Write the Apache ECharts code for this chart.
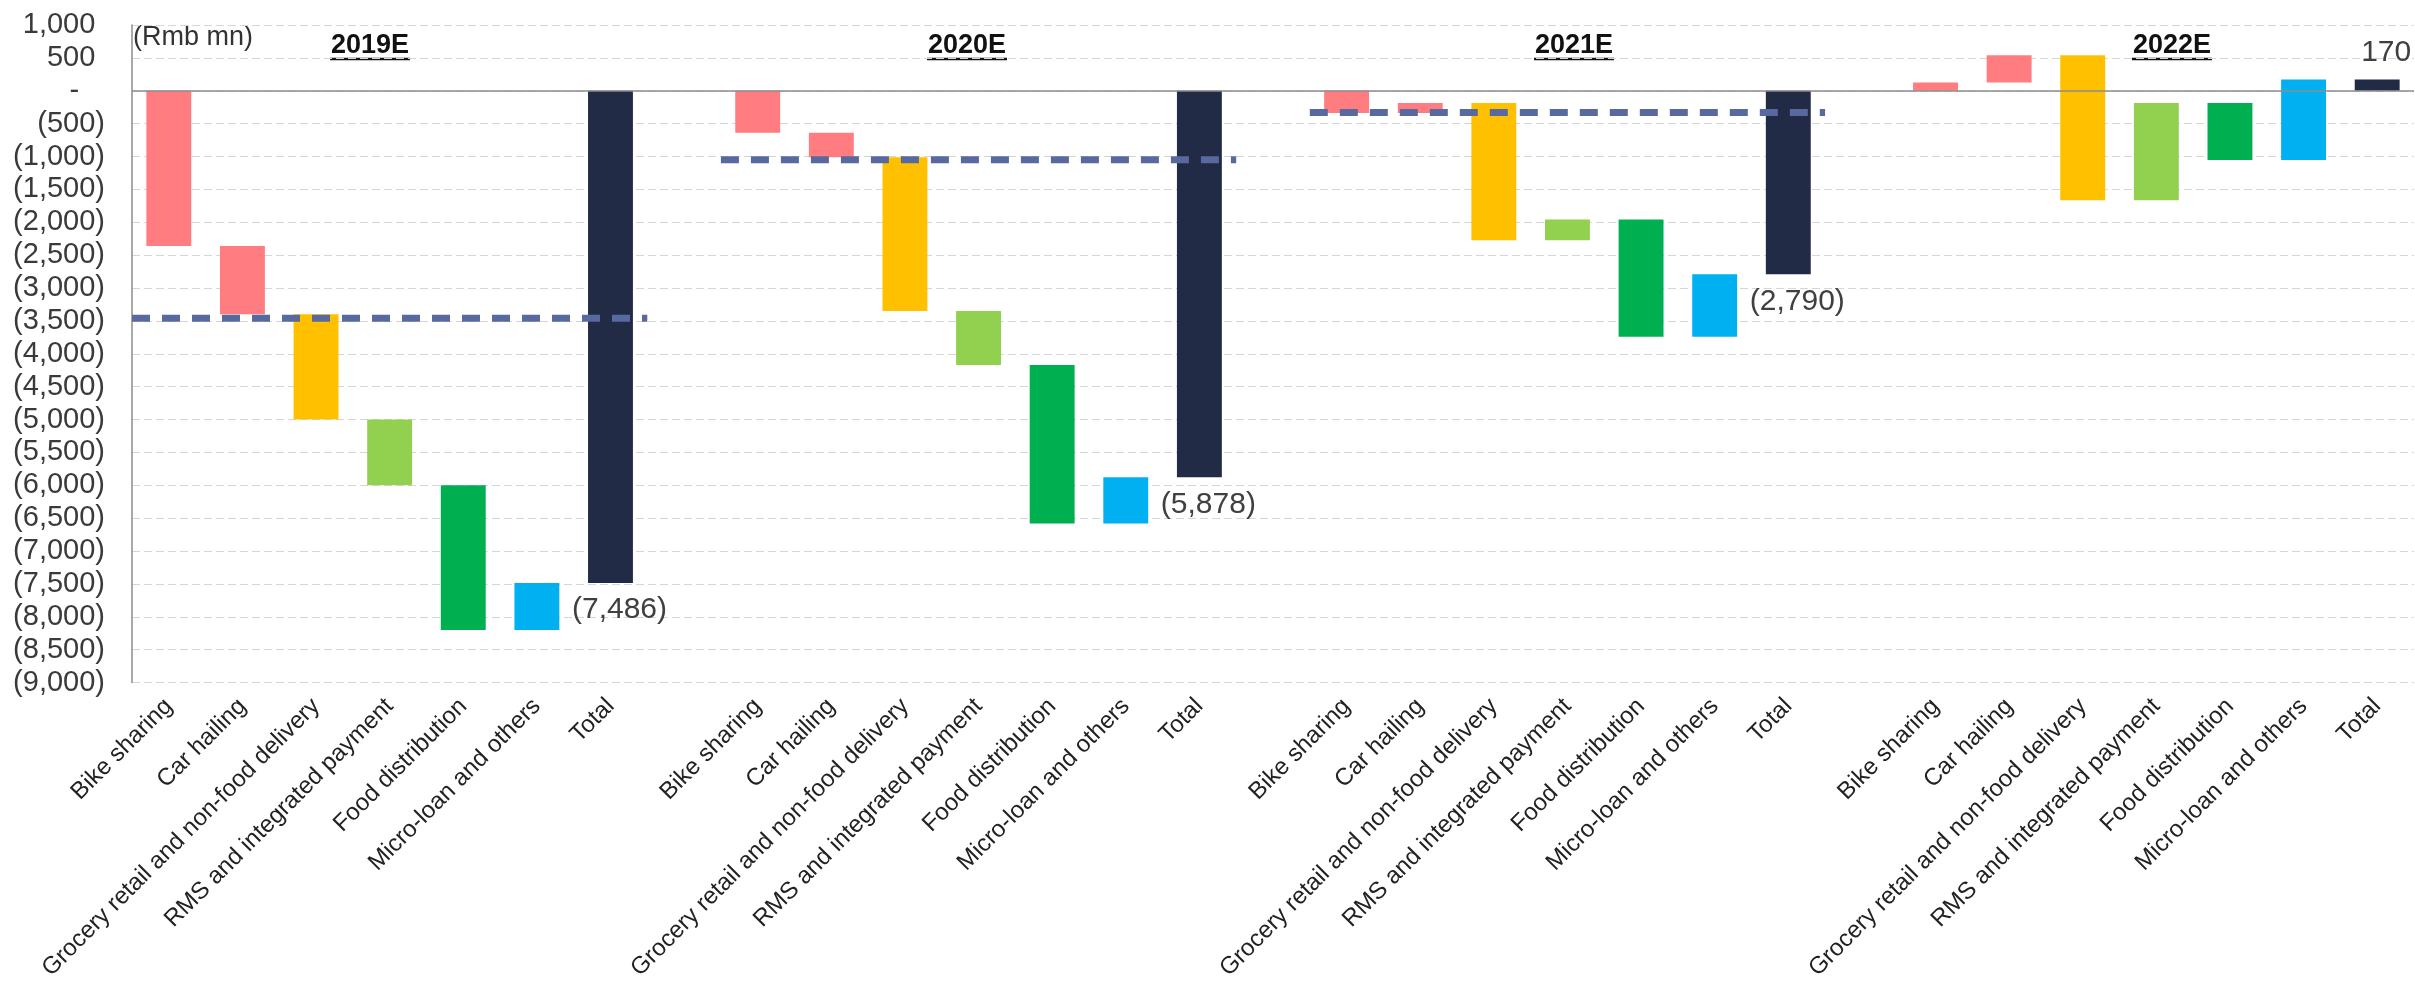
<!DOCTYPE html>
<html>
<head>
<meta charset="utf-8">
<script src="https://cdn.jsdelivr.net/npm/echarts@6/dist/echarts.min.js"></script>
<style>
  html, body { margin: 0; padding: 0; background: #ffffff; }
  #chart { width: 2415px; height: 983px; }
</style>
</head>
<body>
<div id="chart"></div>
<script>
// Segment earnings bridge by year (Rmb mn)
const years = ['2019E', '2020E', '2021E', '2022E'];
const segmentNames = [
  'Bike sharing',
  'Car hailing',
  'Grocery retail and non-food delivery',
  'RMS and integrated payment',
  'Food distribution',
  'Micro-loan and others'
];
const totalName = 'Total';

// Contribution of each segment, one entry per year
const bikeSharing      = [-2360,  -640,  -340,   125];
const carHailing       = [-1040,  -370,   155,   415];
const groceryRetail    = [-1600, -2340, -2090, -2205];
const rmsPayment       = [-1000,  -820,   318,  1478];
const foodDistribution = [-2200, -2410, -1784,  -865];
const microLoan        = [  714,   702,   951,  1222];
const totals           = [-7486, -5878, -2790,   170];

// Dashed reference level drawn across each year's group
const referenceLevel = [-3460, -1050, -330, null];

// Value axis range
const yMin = -9000;
const yMax = 1000;
const yStep = 500;

// ---- styling / layout ----
const FONT = '"Liberation Sans", Arial, sans-serif';
const segmentColors = ['#FF7C80', '#FF7C80', '#FFC000', '#92D050', '#00B050', '#00B0F0'];
const totalColor = '#212B45';
const refLineColor = '#58699F';
const axisGray = '#8c8c8c';
const titleCenters = [370, 967, 1574, 2172];
const barShare = 0.61;

// ---- build slots: 7 bars per year, one empty slot between years ----
const segmentValues = [bikeSharing, carHailing, groceryRetail, rmsPayment, foodDistribution, microLoan];
const categories = [];
const floatData = [];
const totalData = [];
const groupStart = [];

years.forEach((yr, g) => {
  groupStart.push(categories.length);
  let running = 0;
  segmentNames.forEach((name, s) => {
    const idx = categories.length;
    categories.push(yr + '|' + name);
    const start = running;
    running += segmentValues[s][g];
    floatData.push([idx, start, running, s]);
    totalData.push('-');
  });
  categories.push(yr + '|' + totalName);
  totalData.push({
    value: totals[g],
    label: { position: totals[g] < 0 ? 'bottom' : 'top' }
  });
  if (g < years.length - 1) {
    categories.push('gap' + g);
    totalData.push('-');
  }
});
const slotCount = categories.length;
const groupSize = segmentNames.length + 1;

function accounting(v) {
  const s = Math.abs(v).toLocaleString('en-US');
  return v < 0 ? '(' + s + ')' : s;
}

// accounting-style tick labels: positives keep the room of a closing bracket
function tickLabel(v) {
  if (v === 0) return '{n|-}{h|0)}';
  if (v > 0) return '{n|' + accounting(v) + '}{h|)}';
  return '{n|' + accounting(v) + '}';
}

const series = [];

// floating segment bars
series.push({
  type: 'custom',
  name: 'segments',
  xAxisIndex: 0,
  yAxisIndex: 0,
  data: floatData,
  encode: { x: 0, y: [1, 2] },
  z: 2,
  silent: true,
  renderItem: function (params, api) {
    const i = api.value(0);
    const a = api.coord([i, api.value(1)]);
    const b = api.coord([i, api.value(2)]);
    const w = api.size([1, 0])[0] * barShare;
    return {
      type: 'rect',
      shape: {
        x: a[0] - w / 2,
        y: Math.min(a[1], b[1]),
        width: w,
        height: Math.max(Math.abs(b[1] - a[1]), 1)
      },
      style: { fill: segmentColors[api.value(3)] }
    };
  }
});

// totals
series.push({
  type: 'bar',
  name: 'total',
  xAxisIndex: 0,
  yAxisIndex: 0,
  data: totalData,
  barWidth: (barShare * 100) + '%',
  itemStyle: { color: totalColor },
  z: 3,
  silent: true,
  label: {
    show: true,
    formatter: p => accounting(p.value),
    fontFamily: FONT,
    fontSize: 30,
    color: '#404040',
    distance: 12,
    offset: [9, 0]
  },
  markLine: {
    silent: true,
    symbol: 'none',
    label: { show: false },
    lineStyle: { color: axisGray, width: 1.5, type: 'solid' },
    data: [{ yAxis: 0 }],
    animation: false
  }
});

// dashed reference lines per year
years.forEach((yr, g) => {
  const lvl = referenceLevel[g];
  if (lvl === null) return;
  series.push({
    type: 'line',
    name: 'ref ' + yr,
    xAxisIndex: 1,
    yAxisIndex: 0,
    data: [[groupStart[g], lvl], [groupStart[g] + groupSize, lvl]],
    symbol: 'none',
    silent: true,
    z: 5,
    lineStyle: { color: refLineColor, width: 7, type: [18, 12], cap: 'butt' }
  });
});

// unit note and year titles
const graphics = [{
  type: 'text',
  x: 133,
  y: 38,
  style: { text: '(Rmb mn)', font: '27px ' + FONT, fill: '#333333', verticalAlign: 'middle' }
}];
years.forEach((yr, g) => {
  const cx = titleCenters[g];
  graphics.push({
    type: 'text',
    x: cx,
    y: 46,
    style: { text: yr, font: 'bold 27px ' + FONT, fill: '#111111', align: 'center', verticalAlign: 'middle' }
  });
  graphics.push({
    type: 'line',
    shape: { x1: cx - 40, y1: 59, x2: cx + 40, y2: 59 },
    style: { stroke: '#111111', lineWidth: 2.5 }
  });
});

const chart = echarts.init(document.getElementById('chart'), null, { renderer: 'canvas' });
chart.setOption({
  animation: false,
  backgroundColor: '#ffffff',
  grid: { left: 132, right: 1, top: 25, bottom: 299 },
  xAxis: [{
    type: 'category',
    data: categories,
    boundaryGap: true,
    axisLine: { show: false, onZero: false },
    axisTick: { show: false },
    splitLine: { show: false },
    axisLabel: {
      interval: 0,
      rotate: 45,
      margin: 20,
      fontFamily: FONT,
      fontSize: 24,
      color: '#222222',
      formatter: v => (v.indexOf('|') >= 0 ? v.split('|')[1] : '')
    }
  }, {
    type: 'value',
    min: 0,
    max: slotCount,
    show: false
  }],
  yAxis: {
    type: 'value',
    min: yMin,
    max: yMax,
    interval: yStep,
    axisLine: { show: true, lineStyle: { color: axisGray, width: 1.5 } },
    axisTick: { show: false },
    splitLine: { show: true, lineStyle: { color: '#d6d6d6', width: 1, type: [8, 4] } },
    axisLabel: {
      margin: 27,
      fontFamily: FONT,
      fontSize: 29,
      color: '#3a3a3a',
      formatter: tickLabel,
      rich: {
        n: { fontFamily: FONT, fontSize: 29, color: '#3a3a3a' },
        h: { fontFamily: FONT, fontSize: 29, color: 'rgba(0,0,0,0)' }
      }
    }
  },
  graphic: graphics,
  series: series
});
</script>
</body>
</html>
